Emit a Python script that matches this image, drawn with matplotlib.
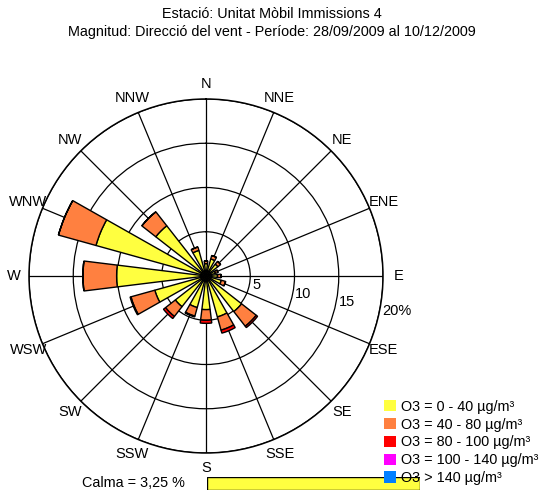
import numpy as np
import matplotlib.pyplot as plt
from matplotlib.patches import Patch

plt.rcParams['font.family'] = ['Liberation Sans', 'DejaVu Sans']

# Data (percent of time per wind direction and O3 class)
directions = ['N', 'NNE', 'NE', 'ENE', 'E', 'ESE', 'SE', 'SSE',
              'S', 'SSW', 'SW', 'WSW', 'W', 'WNW', 'NW', 'NNW']
o3_0_40 = [1.4, 2.0, 1.7, 1.1, 1.3, 1.8, 5.1, 4.8,
           3.8, 3.7, 4.4, 6.0, 10.1, 12.9, 7.2, 3.0]
o3_40_80 = [0.3, 0.4, 0.4, 0.3, 0.4, 0.5, 2.1, 1.55,
            1.2, 1.0, 1.4, 2.8, 3.8, 4.4, 2.0, 0.4]
o3_80_100 = [0, 0, 0, 0, 0, 0, 0.2, 0.35,
             0.35, 0.1, 0.3, 0.1, 0, 0, 0, 0]
o3_100_140 = [0] * 16
o3_140 = [0] * 16
calma = 3.25

series = [o3_0_40, o3_40_80, o3_80_100, o3_100_140, o3_140]
labels = ['O3 = 0 - 40 µg/m³', 'O3 = 40 - 80 µg/m³', 'O3 = 80 - 100 µg/m³',
          'O3 = 100 - 140 µg/m³', 'O3 > 140 µg/m³']
colors = ['#ffff40', '#ff8040', '#ff0000', '#ff00ff', '#0080ff']

fig = plt.figure(figsize=(5.43, 4.96), dpi=100)
fig.text(0.5, 1 - 14 / 496, 'Estació: Unitat Mòbil Immissions 4', ha='center', va='center', fontsize=10.4)
fig.text(0.5, 1 - 32 / 496, 'Magnitud: Direcció del vent - Període: 28/09/2009 al 10/12/2009',
         ha='center', va='center', fontsize=10.4)

ax = fig.add_axes([29 / 543, 43 / 496, 354 / 543, 354 / 496], projection='polar')
ax.set_theta_zero_location('N')
ax.set_theta_direction(-1)
ax.set_ylim(0, 20)
ax.set_axisbelow(True)

theta = np.deg2rad(np.arange(16) * 22.5)
width = np.deg2rad(14)
bottom = np.zeros(16)
for vals, col in zip(series, colors):
    vals = np.array(vals)
    if vals.sum() > 0:
        ax.bar(theta, vals, width=width, bottom=bottom, color=col,
               edgecolor='black', linewidth=1, zorder=3)
    bottom += vals

ax.set_thetagrids(np.arange(16) * 22.5, [''] * 16)
ax.set_rgrids([5, 10, 15, 20], [''] * 4)
ax.grid(True, color='black', linewidth=0.9)
ax.spines['polar'].set_linewidth(1.1)

for d, t in zip(directions, theta):
    ax.text(t, 21.75, d, ha='center', va='center', fontsize=10.5, clip_on=False)

ring_labels = ['5', '10', '15', '20%']
ring_pos = [5.75, 11.15, 16.25, 21.95]
for lab, r in zip(ring_labels, ring_pos):
    ax.text(np.deg2rad(100.5), r, lab, ha='center', va='center', fontsize=10.5, clip_on=False)

handles = [Patch(facecolor=c, edgecolor='none') for c in colors]
fig.legend(handles, labels, loc='lower left', bbox_to_anchor=(378 / 543, 5 / 496),
           frameon=False, fontsize=10.4, handlelength=0.85, handleheight=0.85,
           handletextpad=0.35, labelspacing=0.27, borderaxespad=0)

fig.text(82 / 543, 1 - 483 / 496, 'Calma = %s %%' % str(calma).replace('.', ','),
         ha='left', va='center', fontsize=10.4)
cax = fig.add_axes([207 / 543, 6 / 496, 213 / 543, 13 / 496])
cax.barh([0], [calma], height=1, color=colors[0], edgecolor='black', linewidth=1)
cax.set_xlim(0, calma)
cax.set_ylim(-0.5, 0.5)
cax.axis('off')

fig.savefig('out.png', dpi=100)
